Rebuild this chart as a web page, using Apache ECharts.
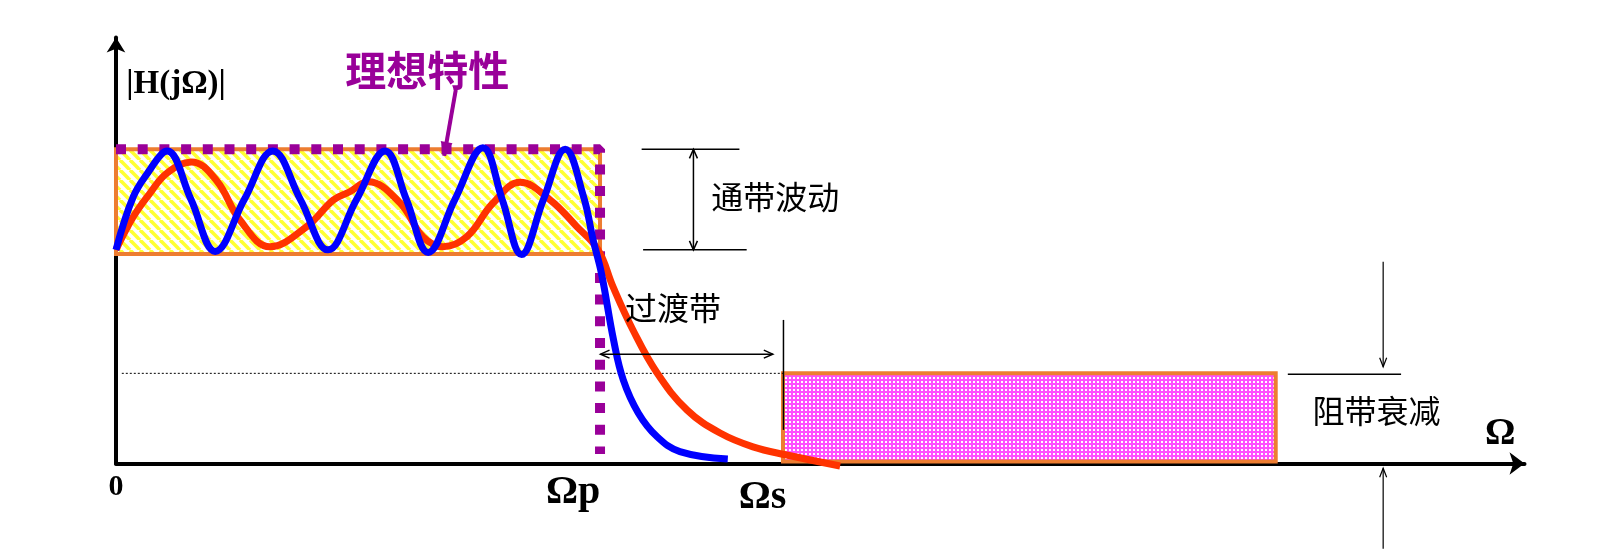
<!DOCTYPE html>
<html><head><meta charset="utf-8">
<script src="https://cdn.jsdelivr.net/npm/echarts@6/dist/echarts.min.js"></script>
<style>html,body{margin:0;padding:0;background:#fff;}#c{width:1597px;height:549px;}</style>
</head><body><div id="c"></div>
<script>
// ---------- data (normalised: Ωp = 1, passband max |H| = 1) ----------
const xTickValues = [0, 1, 1.378];
const xTickLabels = ['0', 'Ωp', 'Ωs'];

// boxes: [x0, y0, x1, y1]
const passbandBox = [[0, 0.667, 1, 1]];
const stopbandBox = [[1.378, 0.006, 2.396, 0.287]];

// ideal (brick-wall) characteristic
const idealResponse = [[0, 1], [1, 1], [1, 0.03]];

// high-order ripple response (blue)
const highOrderResponse = [
  [0, 0.68], [0.036, 0.85], [0.07, 0.935], [0.094, 0.985], [0.106, 0.995],
  [0.155, 0.84], [0.205, 0.675], [0.265, 0.84], [0.324, 0.995], [0.381, 0.84],
  [0.438, 0.68], [0.497, 0.84], [0.556, 0.995], [0.6, 0.84], [0.645, 0.672],
  [0.70, 0.84], [0.758, 1.005], [0.798, 0.84], [0.838, 0.665], [0.883, 0.84],
  [0.928, 1.0], [0.966, 0.849], [0.986, 0.71], [1.003, 0.605], [1.028, 0.393],
  [1.048, 0.266], [1.079, 0.161], [1.118, 0.085], [1.165, 0.038], [1.264, 0.014]
];

// low-order ripple response (red)
const lowOrderResponse = [
  [0, 0.68], [0.036, 0.786], [0.07, 0.86], [0.105, 0.924], [0.156, 0.96],
  [0.208, 0.9], [0.256, 0.775], [0.318, 0.69], [0.394, 0.754], [0.449, 0.839],
  [0.483, 0.865], [0.521, 0.897], [0.587, 0.829], [0.634, 0.722], [0.676, 0.69],
  [0.725, 0.722], [0.779, 0.829], [0.835, 0.895], [0.897, 0.839], [0.952, 0.754],
  [0.996, 0.68], [1.027, 0.562], [1.068, 0.425], [1.118, 0.288], [1.18, 0.17],
  [1.248, 0.097], [1.316, 0.053], [1.386, 0.027], [1.496, -0.008]
];

// annotation segments: [x0, y0, x1, y1]
const rippleGuides = [[1.086, 1, 1.288, 1], [1.089, 0.68, 1.303, 0.68]];
const rippleArrow = [[1.193, 1, 1.193, 0.68]];
const transitionArrow = [[1.001, 0.348, 1.357, 0.348]];
const transitionTick = [[1.379, 0.457, 1.379, 0.107]];
const stopLevelLine = [[0.012, 0.287, 1.378, 0.287]];
const stopGuide = [[2.421, 0.284, 2.655, 0.284]];
const stopArrows = [[2.618, 0.642, 2.618, 0.308], [2.618, -0.271, 2.618, -0.015]];
const idealPointer = [[0.702, 1.189, 0.678, 0.979]];

// text labels and anchors
const textLabels = ['|H(jΩ)|', '理想特性', '通带波动', '过渡带', '阻带衰减', 'Ω'];
const textAnchors = [[0.124, 1.208], [0.643, 1.252], [1.362, 0.849], [1.151, 0.494], [2.604, 0.168], [2.86, 0.094]];

// ---------- styles ----------
const SERIF = '"Liberation Serif", "DejaVu Serif", serif';
const CJK = '"Noto Sans CJK SC", sans-serif';
const textStyles = [
  {font: 'bold 33px ' + SERIF, fill: '#000'},
  {font: 'bold 41px ' + CJK, fill: '#990099'},
  {font: 'normal 32px ' + CJK, fill: '#000'},
  {font: 'normal 32px ' + CJK, fill: '#000'},
  {font: 'normal 32px ' + CJK, fill: '#000'},
  {font: 'bold 38px ' + SERIF, fill: '#000'}
];

function makeStripe() {
  const n = 10, c = document.createElement('canvas');
  c.width = n; c.height = n;
  const g = c.getContext('2d');
  g.fillStyle = '#fff'; g.fillRect(0, 0, n, n);
  g.strokeStyle = '#FFFF33'; g.lineWidth = 3.6;
  for (let k = -1; k <= 1; k++) {
    g.beginPath(); g.moveTo(k * n, 0); g.lineTo(k * n + n, n); g.stroke();
  }
  return c;
}
function makeDots() {
  const c = document.createElement('canvas');
  c.width = 4; c.height = 4;
  const g = c.getContext('2d');
  g.fillStyle = '#FF50FF'; g.fillRect(0, 0, 4, 4);
  g.fillStyle = '#fff'; g.fillRect(1, 1, 2, 2);
  return c;
}
const stripeFill = {image: makeStripe(), repeat: 'repeat'};
const dotFill = {image: makeDots(), repeat: 'repeat'};

function rectSeries(data, fill) {
  return {
    type: 'custom', data: data, z: 1, silent: true,
    renderItem: function (params, api) {
      const a = api.coord([api.value(0), api.value(3)]);
      const b = api.coord([api.value(2), api.value(1)]);
      return {type: 'rect', shape: {x: a[0], y: a[1], width: b[0] - a[0], height: b[1] - a[1]},
        style: {fill: fill, stroke: '#ED7D31', lineWidth: 4}};
    }
  };
}

function segSeries(data, opt) {
  return {
    type: 'custom', data: data, z: opt.z || 5, silent: true,
    renderItem: function (params, api) {
      const p0 = api.coord([api.value(0), api.value(1)]);
      const p1 = api.coord([api.value(2), api.value(3)]);
      const children = [{type: 'line', shape: {x1: p0[0], y1: p0[1], x2: p1[0], y2: p1[1]},
        style: {stroke: opt.color, lineWidth: opt.width, lineDash: opt.dash || null}}];
      function head(from, to) {
        const dx = to[0] - from[0], dy = to[1] - from[1];
        const L = Math.sqrt(dx * dx + dy * dy);
        const ux = dx / L, uy = dy / L, nx = -uy, ny = ux;
        const bx = to[0] - ux * opt.headLen, by = to[1] - uy * opt.headLen;
        const pts = [[bx + nx * opt.headHalf, by + ny * opt.headHalf], [to[0], to[1]], [bx - nx * opt.headHalf, by - ny * opt.headHalf]];
        if (opt.filled) {
          children.push({type: 'polygon', shape: {points: pts}, style: {fill: opt.color}});
        } else {
          children.push({type: 'polyline', shape: {points: pts}, style: {stroke: opt.color, lineWidth: opt.width, fill: null}});
        }
      }
      if (opt.heads === 'end' || opt.heads === 'both') head(p0, p1);
      if (opt.heads === 'both') head(p1, p0);
      return {type: 'group', children: children};
    }
  };
}

const chart = echarts.init(document.getElementById('c'), null, {renderer: 'canvas'});
const option = {
  animation: false,
  backgroundColor: '#fff',
  grid: {left: 116, right: 72.5, top: 37.5, bottom: 85.5, containLabel: false, outerBoundsMode: 'none'},
  xAxis: {
    type: 'value', min: 0, max: 2.91,
    axisLine: {show: true, symbol: ['none', 'arrow'], symbolSize: [17, 15], lineStyle: {color: '#000', width: 4}},
    axisTick: {show: false}, splitLine: {show: false},
    axisLabel: {
      show: true, customValues: xTickValues, margin: 8, color: '#000',
      formatter: function (v) {
        const i = xTickValues.indexOf(v);
        const key = ['z', 'p', 's'][i];
        const lead = i === 2 ? '{g| }\n' : '';
        return lead + '{' + key + '|' + xTickLabels[i] + '}';
      },
      rich: {
        g: {fontSize: 2, lineHeight: 5},
        z: {fontFamily: SERIF, fontWeight: 'bold', fontSize: 30, lineHeight: 32, color: '#000', padding: [0, 0, 0, 0]},
        p: {fontFamily: SERIF, fontWeight: 'bold', fontSize: 40, lineHeight: 42, color: '#000', padding: [0, 54, 0, 0]},
        s: {fontFamily: SERIF, fontWeight: 'bold', fontSize: 40, lineHeight: 42, color: '#000', padding: [0, 41, 0, 0]}
      }
    }
  },
  yAxis: {
    type: 'value', min: 0, max: 1.356,
    axisLine: {show: true, symbol: ['none', 'arrow'], symbolSize: [14, 15], lineStyle: {color: '#000', width: 4}},
    axisTick: {show: false}, splitLine: {show: false}, axisLabel: {show: false}
  },
  series: [
    rectSeries(passbandBox, stripeFill),
    rectSeries(stopbandBox, dotFill),
    segSeries(stopLevelLine, {color: '#000', width: 1, dash: [2, 2], heads: 'none', z: 2}),
    {
      type: 'line', data: idealResponse, z: 3, silent: true, showSymbol: false, clip: false,
      lineStyle: {color: '#990099', width: 10, type: [10, 11.7], cap: 'butt'}
    },
    {
      type: 'line', data: lowOrderResponse, z: 4, silent: true, showSymbol: false, smooth: 0.4, clip: false,
      lineStyle: {color: '#FF3300', width: 7}
    },
    {
      type: 'line', data: highOrderResponse, z: 4, silent: true, showSymbol: false, smooth: 0.4, clip: false,
      lineStyle: {color: '#0000FF', width: 7}
    },
    segSeries(rippleGuides, {color: '#000', width: 1.5, heads: 'none'}),
    segSeries(rippleArrow, {color: '#000', width: 1.5, heads: 'both', headLen: 9, headHalf: 4}),
    segSeries(transitionArrow, {color: '#000', width: 1.5, heads: 'both', headLen: 9, headHalf: 4}),
    segSeries(transitionTick, {color: '#000', width: 1.5, heads: 'none'}),
    segSeries(stopGuide, {color: '#000', width: 1.5, heads: 'none'}),
    segSeries(stopArrows, {color: '#000', width: 1.2, heads: 'end', headLen: 9, headHalf: 3.5}),
    segSeries(idealPointer, {color: '#990099', width: 4, heads: 'end', headLen: 14, headHalf: 6, filled: true}),
    {
      type: 'custom', z: 6, silent: true,
      data: textAnchors.map(function (p, i) { return [p[0], p[1], i]; }),
      renderItem: function (params, api) {
        const i = api.value(2);
        const p = api.coord([api.value(0), api.value(1)]);
        return {type: 'text', x: p[0], y: p[1],
          style: {text: textLabels[i], font: textStyles[i].font, fill: textStyles[i].fill, align: 'center', verticalAlign: 'middle'}};
      }
    }
  ]
};
chart.setOption(option);
</script></body></html>
